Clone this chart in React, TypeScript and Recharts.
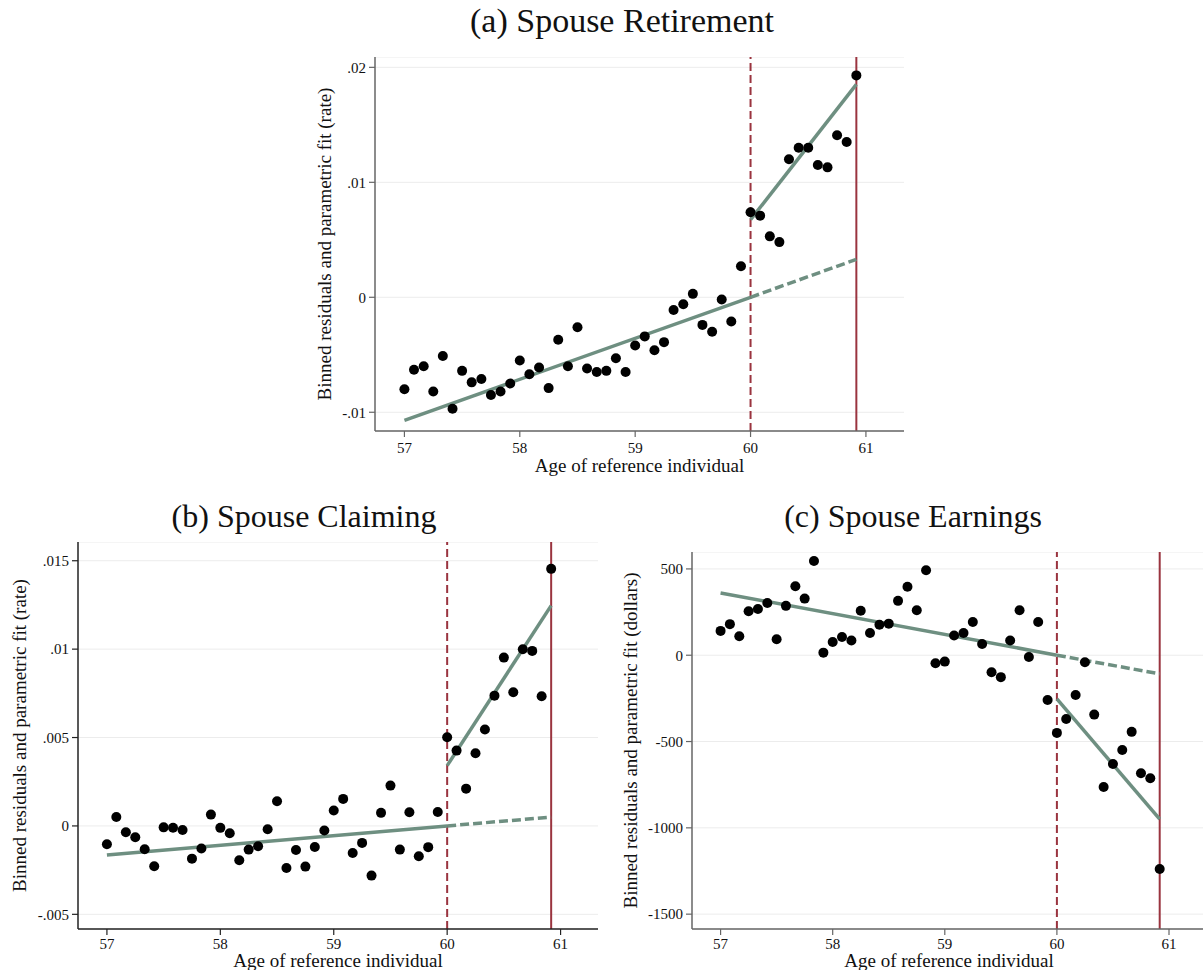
import React from "react";
import { ScatterChart, Scatter, XAxis, YAxis, CartesianGrid, ReferenceLine, Label } from "recharts";

// monthly age bins of the reference individual
const AGES = [
  57, 57.083, 57.167, 57.25, 57.333, 57.417, 57.5, 57.583, 57.667, 57.75, 57.833, 57.917,
  58, 58.083, 58.167, 58.25, 58.333, 58.417, 58.5, 58.583, 58.667, 58.75, 58.833, 58.917,
  59, 59.083, 59.167, 59.25, 59.333, 59.417, 59.5, 59.583, 59.667, 59.75, 59.833, 59.917,
  60, 60.083, 60.167, 60.25, 60.333, 60.417, 60.5, 60.583, 60.667, 60.75, 60.833, 60.917,
];
const CUTOFF_AGE = 60;
const LAST_AGE = 60.917;
const PRE_FIT_AGES = [57, 60];
const POST_FIT_AGES = [60, 60.917];
const X_TICKS = [57, 58, 59, 60, 61];

// (a) spouse retirement
const RETIRE_RESID = [
  -0.008, -0.0063, -0.006, -0.0082, -0.0051, -0.0097, -0.0064, -0.0074, -0.0071, -0.0085, -0.0082, -0.0075,
  -0.0055, -0.0067, -0.0061, -0.0079, -0.0037, -0.006, -0.0026, -0.0062, -0.0065, -0.0064, -0.0053, -0.0065,
  -0.0042, -0.0034, -0.0046, -0.0039, -0.0011, -0.0006, 0.0003, -0.0024, -0.003, -0.0002, -0.0021, 0.0027,
  0.0074, 0.0071, 0.0053, 0.0048, 0.012, 0.013, 0.013, 0.0115, 0.0113, 0.0141, 0.0135, 0.0193,
];
const RETIRE_PRE_FIT = [-0.0107, 0];
const RETIRE_EXTRAP = [0, 0.0033];
const RETIRE_POST_FIT = [0.00675, 0.01852];
const RETIRE_TICKS = [-0.01, 0, 0.01, 0.02];

// (b) spouse claiming
const CLAIM_RESID = [
  -0.00104, 0.00051, -0.00036, -0.00064, -0.00132, -0.00228, -0.00008, -0.0001, -0.00023, -0.00185, -0.00128, 0.00064,
  -0.00011, -0.00041, -0.00194, -0.00134, -0.00115, -0.00019, 0.0014, -0.00238, -0.00136, -0.0023, -0.00119, -0.00026,
  0.00087, 0.00153, -0.00153, -0.00096, -0.00281, 0.00074, 0.00228, -0.00134, 0.00077, -0.00171, -0.0012, 0.00079,
  0.00502, 0.00426, 0.00211, 0.00411, 0.00545, 0.00737, 0.00952, 0.00756, 0.00999, 0.0099, 0.00734, 0.01454,
];
const CLAIM_PRE_FIT = [-0.00164, 0];
const CLAIM_EXTRAP = [0, 0.0005];
const CLAIM_POST_FIT = [0.00341, 0.01246];
const CLAIM_TICKS = [-0.005, 0, 0.005, 0.01, 0.015];

// (c) spouse earnings
const EARN_RESID = [
  141, 180, 110, 255, 268, 303, 93, 286, 400, 328, 546, 15,
  77, 106, 85, 258, 129, 177, 183, 315, 397, 261, 492, -46,
  -37, 114, 129, 193, 65, -99, -127, 85, 261, -10, 193, -259,
  -450, -369, -230, -41, -344, -763, -630, -549, -444, -684, -713, -1238,
];
const EARN_PRE_FIT = [361, 0];
const EARN_EXTRAP = [0, -108];
const EARN_POST_FIT = [-253, -950];
const EARN_TICKS = [-1500, -1000, -500, 0, 500];

const X_DOMAIN: [number, number] = [56.745, 61.33];
const SERIF = "'Liberation Serif', 'Times New Roman', serif";
const GREEN = "#6e8f81";
const RED = "#9a343f";
const X_H = 45;

const pts = (xs: number[], ys: number[]) => xs.map((x, i) => ({ x, y: ys[i] }));
const rateFmt = (v: number) => String(v).replace("0.", ".");

const Dot = (p: any) => <circle cx={p.cx} cy={p.cy} r={5} fill="#000" />;
const NoDot = () => <g />;

interface PanelProps {
  left: number;
  top: number;
  plotW: number;
  plotH: number;
  yW: number;
  yDomain: [number, number];
  yTicks: number[];
  fmt?: (v: number) => string;
  yLabel: string;
  yLabelX: number;
  xLabelDy: number;
  xTickGap: number;
  axisColor: string;
  resid: number[];
  pre: number[];
  extrap: number[];
  post: number[];
}

function Panel(p: PanelProps) {
  const tickStyle = { fill: "#111", fontSize: 15, fontFamily: SERIF };
  return (
    <div style={{ position: "absolute", left: p.left - p.yW, top: p.top }}>
      <ScatterChart width={p.yW + p.plotW} height={p.plotH + X_H} margin={{ top: 0, right: 0, bottom: 0, left: 0 }}>
        <CartesianGrid vertical={false} stroke="#ececec" />
        <XAxis
          type="number"
          dataKey="x"
          domain={X_DOMAIN}
          ticks={X_TICKS}
          allowDataOverflow
          height={X_H}
          tick={tickStyle}
          tickSize={6}
          tickMargin={p.xTickGap}
          axisLine={{ stroke: p.axisColor, strokeWidth: 1.5 }}
          tickLine={{ stroke: p.axisColor, strokeWidth: 1.2 }}
        >
          <Label
            content={(lp: any) => {
              const vb = lp.viewBox;
              return (
                <text x={vb.x + vb.width / 2} y={vb.y + p.xLabelDy} textAnchor="middle" fontSize={19} fontFamily={SERIF} fill="#111">
                  Age of reference individual
                </text>
              );
            }}
          />
        </XAxis>
        <YAxis
          type="number"
          dataKey="y"
          domain={p.yDomain}
          ticks={p.yTicks}
          allowDataOverflow
          width={p.yW}
          tick={tickStyle}
          tickFormatter={p.fmt}
          tickSize={6}
          tickMargin={3}
          axisLine={{ stroke: p.axisColor, strokeWidth: 1.5 }}
          tickLine={{ stroke: p.axisColor, strokeWidth: 1.2 }}
        >
          <Label
            content={(lp: any) => {
              const vb = lp.viewBox;
              const cx = p.yLabelX;
              const cy = vb.y + vb.height / 2;
              return (
                <text
                  x={cx}
                  y={cy}
                  transform={`rotate(-90 ${cx} ${cy})`}
                  textAnchor="middle"
                  dominantBaseline="central"
                  fontSize={19}
                  fontFamily={SERIF}
                  fill="#111"
                >
                  {p.yLabel}
                </text>
              );
            }}
          />
        </YAxis>
        <ReferenceLine x={CUTOFF_AGE} stroke={RED} strokeWidth={2} strokeDasharray="8 4" />
        <ReferenceLine x={LAST_AGE} stroke={RED} strokeWidth={2} />
        <Scatter data={pts(PRE_FIT_AGES, p.pre)} line={{ stroke: GREEN, strokeWidth: 3.5 }} shape={NoDot} isAnimationActive={false} />
        <Scatter
          data={pts(POST_FIT_AGES, p.extrap)}
          line={{ stroke: GREEN, strokeWidth: 3.5, strokeDasharray: "9 4" }}
          shape={NoDot}
          isAnimationActive={false}
        />
        <Scatter data={pts(POST_FIT_AGES, p.post)} line={{ stroke: GREEN, strokeWidth: 3.5 }} shape={NoDot} isAnimationActive={false} />
        <Scatter data={pts(AGES, p.resid)} shape={Dot} isAnimationActive={false} />
      </ScatterChart>
    </div>
  );
}

function Title({ cx, top, text, size }: { cx: number; top: number; text: string; size: number }) {
  return (
    <div
      style={{
        position: "absolute",
        left: cx - 300,
        width: 600,
        top,
        textAlign: "center",
        fontFamily: SERIF,
        fontSize: size,
        lineHeight: "38px",
        color: "#111",
      }}
    >
      {text}
    </div>
  );
}

export default function App() {
  return (
    <div style={{ position: "absolute", left: 0, top: 0, width: 1203, height: 970, overflow: "hidden", background: "#fff" }}>
      <Title cx={622} top={2} size={34} text="(a) Spouse Retirement" />
      <Title cx={304} top={497} size={32} text="(b) Spouse Claiming" />
      <Title cx={913} top={497} size={32} text="(c) Spouse Earnings" />

      <Panel
        left={375}
        top={57}
        plotW={529}
        plotH={374}
        yW={90}
        yDomain={[-0.01163, 0.0209]}
        yTicks={RETIRE_TICKS}
        fmt={rateFmt}
        yLabel="Binned residuals and parametric fit (rate)"
        yLabelX={39}
        xLabelDy={41}
        xTickGap={5}
        axisColor="#666"
        resid={RETIRE_RESID}
        pre={RETIRE_PRE_FIT}
        extrap={RETIRE_EXTRAP}
        post={RETIRE_POST_FIT}
      />
      <Panel
        left={78}
        top={542}
        plotW={520}
        plotH={387}
        yW={78}
        yDomain={[-0.00583, 0.01606]}
        yTicks={CLAIM_TICKS}
        fmt={rateFmt}
        yLabel="Binned residuals and parametric fit (rate)"
        yLabelX={19}
        xLabelDy={38}
        xTickGap={3}
        axisColor="#222"
        resid={CLAIM_RESID}
        pre={CLAIM_PRE_FIT}
        extrap={CLAIM_EXTRAP}
        post={CLAIM_POST_FIT}
      />
      <Panel
        left={692}
        top={552}
        plotW={514}
        plotH={377}
        yW={90}
        yDomain={[-1586, 598]}
        yTicks={EARN_TICKS}
        yLabel="Binned residuals and parametric fit (dollars)"
        yLabelX={28}
        xLabelDy={38}
        xTickGap={3}
        axisColor="#666"
        resid={EARN_RESID}
        pre={EARN_PRE_FIT}
        extrap={EARN_EXTRAP}
        post={EARN_POST_FIT}
      />
    </div>
  );
}
